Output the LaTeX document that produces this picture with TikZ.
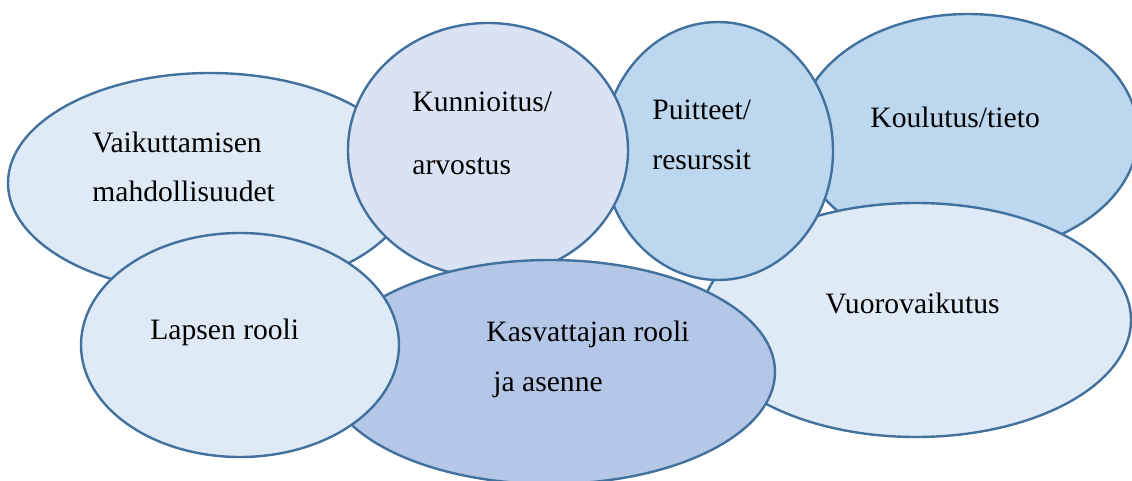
\documentclass[tikz,border=0pt]{standalone}
\usepackage{fontspec}
\setmainfont{Liberation Serif}
\usepackage{tikz}
\usetikzlibrary{shapes.geometric}
\definecolor{rim}{RGB}{65,113,156}
\definecolor{paleblue}{RGB}{222,234,246}
\definecolor{greyblue}{RGB}{218,227,243}
\definecolor{skyblue}{RGB}{189,215,238}
\definecolor{midblue}{RGB}{180,199,231}
\tikzset{
  bubble/.style={ellipse, draw=rim, line width=1.2pt, inner sep=0pt},
  word/.style={anchor=base west, inner sep=0pt, font=\fontsize{14.8}{17}\selectfont}
}

\begin{document}
\begin{tikzpicture}[x=0.5pt, y=-0.5pt]
      \useasboundingbox (0, 0) rectangle (1132, 481);
      % back to front
      \node[bubble, fill=paleblue, minimum width=202pt, minimum height=110pt] (vaik) at (210, 183) {};
      \node[bubble, fill=skyblue, minimum width=170pt, minimum height=120pt] (koul) at (968, 134) {};
      \node[bubble, fill=paleblue, minimum width=215pt, minimum height=117pt] (vuor) at (916, 320) {};
      \node[bubble, fill=skyblue, minimum width=115pt, minimum height=129pt] (puit) at (718, 151) {};
      \node[bubble, fill=greyblue, minimum width=140pt, minimum height=127pt] (kunn) at (488, 150) {};
      \node[bubble, fill=midblue, minimum width=225pt, minimum height=112pt] (kasv) at (550, 372) {};
      \node[bubble, fill=paleblue, minimum width=159pt, minimum height=112pt] (laps) at (240, 345) {};
      % texts
      \node[word] (vaik1) at (92, 153) {Vaikuttamisen};
      \node[word] (vaik2) at (92, 202) {mahdollisuudet};
      \node[word] (kunn1) at (412, 112) {Kunnioitus/};
      \node[word] (kunn2) at (412, 175) {arvostus};
      \node[word] (puit1) at (652, 120) {Puitteet/};
      \node[word] (puit2) at (652, 170) {resurssit};
      \node[word] (koul1) at (870, 128) {Koulutus/tieto};
      \node[word] (vuor1) at (825, 314) {Vuorovaikutus};
      \node[word] (kasv1) at (486, 342) {Kasvattajan rooli};
      \node[word] (kasv2) at (493, 392) {ja asenne};
      \node[word] (laps1) at (150, 340) {Lapsen rooli};
\end{tikzpicture}
\end{document}
